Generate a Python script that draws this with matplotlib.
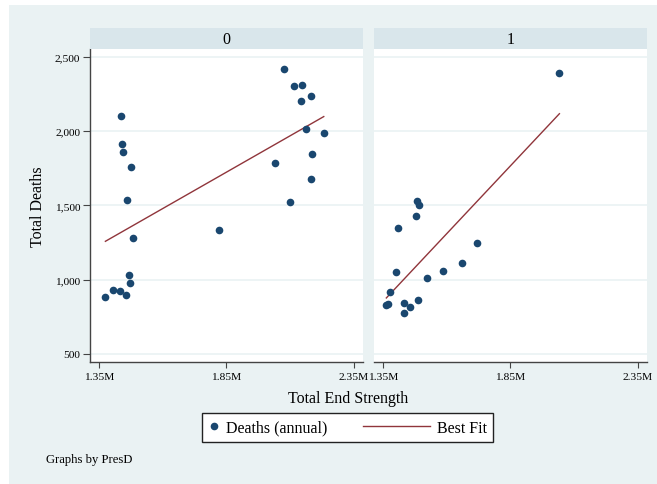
import numpy as np
import matplotlib
matplotlib.use("Agg")
import matplotlib.pyplot as plt
from matplotlib.patches import Rectangle
from matplotlib.lines import Line2D
from matplotlib.legend_handler import HandlerLine2D

# ---------------- data (end strength in millions, deaths) ----------------
panel_labels = ["0", "1"]

strength_0 = [1.437, 1.442, 1.443, 1.477, 1.459, 1.484, 1.822, 2.078, 2.115, 2.149,
              2.183, 2.143, 2.164, 2.233, 2.187, 2.040, 2.182, 2.099,
              1.468, 1.473, 1.375, 1.404, 1.434, 1.454]
deaths_0 = [2099, 1912, 1863, 1757, 1538, 1282, 1333, 2419, 2306, 2313,
            2239, 2201, 2014, 1989, 1845, 1788, 1678, 1525,
            1029, 975, 885, 928, 921, 894]

strength_1 = [2.043, 1.483, 1.491, 1.479, 1.409, 1.719, 1.661, 1.587, 1.401, 1.524,
              1.379, 1.363, 1.368, 1.434, 1.456, 1.434, 1.487]
deaths_1 = [2390, 1529, 1500, 1426, 1345, 1245, 1110, 1056, 1052, 1009,
            917, 826, 836, 843, 818, 773, 865]

x_ticks = [1.35, 1.85, 2.35]
x_tick_labels = ["1.35M", "1.85M", "2.35M"]
y_ticks = [500, 1000, 1500, 2000, 2500]
y_tick_labels = ["500", "1,000", "1,500", "2,000", "2,500"]

# ---------------- style ----------------
W, H = 657, 485
BG = "#EAF2F3"
STRIP = "#D9E6EB"
GRID = "#EAF2F3"
DOT = "#1A476F"
FIT = "#90353B"
AX = "#444444"
FONT = "Liberation Serif"
plt.rcParams["font.family"] = [FONT, "DejaVu Serif"]

fig = plt.figure(figsize=(W / 100, H / 100), dpi=100, facecolor="white")
fig.patches.append(Rectangle((9 / W, 0), 1 - 9 / W, 1 - 6 / H, transform=fig.transFigure,
                             facecolor=BG, edgecolor="none", zorder=-10))

def px(x0, y0, x1, y1):
    return [x0 / W, 1 - y1 / H, (x1 - x0) / W, (y1 - y0) / H]

panel_x = [(90, 362.7), (374, 646.7)]
top, bottom = 50, 362.7
xlim = (1.3145, 2.386)
ylim = (446, 2554)

datasets = [(strength_0, deaths_0), (strength_1, deaths_1)]
axes = []
for i, ((x0, x1), (xs, ys)) in enumerate(zip(panel_x, datasets)):
    ax = fig.add_axes(px(x0, top, x1, bottom))
    ax.set_facecolor("white")
    ax.set_xlim(*xlim)
    ax.set_ylim(*ylim)
    ax.set_yticks(y_ticks)
    ax.set_xticks(x_ticks)
    ax.set_xticklabels(x_tick_labels, fontsize=8.2)
    for yt in y_ticks:
        ax.axhline(yt, color=GRID, lw=1.2, zorder=0)
    for s in ["top", "right"]:
        ax.spines[s].set_visible(False)
    ax.spines["bottom"].set_color(AX)
    ax.spines["bottom"].set_linewidth(1.0)
    if i == 0:
        ax.set_yticklabels(y_tick_labels, fontsize=8.2)
        ax.spines["left"].set_color(AX)
        ax.spines["left"].set_linewidth(1.0)
        ax.tick_params(axis="y", length=5, width=0.8, color=AX, pad=2)
    else:
        ax.spines["left"].set_visible(False)
        ax.tick_params(axis="y", left=False, labelleft=False)
    ax.tick_params(axis="x", length=4.5, width=0.8, color=AX, pad=3)

    xs_a = np.array(xs)
    ys_a = np.array(ys)
    ax.plot(xs_a, ys_a, "o", color=DOT, markersize=5.5, markeredgewidth=0, zorder=3,
            label="Deaths (annual)")
    b, a = np.polyfit(xs_a, ys_a, 1)
    fx = np.array([xs_a.min(), xs_a.max()])
    ax.plot(fx, a + b * fx, color=FIT, lw=1.0, zorder=2, label="Best Fit")

    sax = fig.add_axes(px(x0, 29, x1, 50))
    sax.set_facecolor(STRIP)
    sax.set_xticks([]); sax.set_yticks([])
    for s in sax.spines.values():
        s.set_visible(False)
    sax.text(0.5, 0.5, panel_labels[i], ha="center", va="center", fontsize=11.5,
             transform=sax.transAxes)
    axes.append(ax)

fig.text(37.5 / W, 1 - 207 / H, "Total Deaths", rotation=90, ha="center", va="center",
         fontsize=11.5)
fig.text(348 / W, 1 - 399 / H, "Total End Strength", ha="center", va="center",
         fontsize=11.5)
fig.text(46 / W, 1 - 460 / H, "Graphs by PresD", ha="left", va="center", fontsize=9.1)


class LongLine(HandlerLine2D):
    def __init__(self, extra, **kw):
        super().__init__(**kw)
        self.extra = extra

    def get_xdata(self, legend, xdescent, ydescent, width, height, fontsize):
        return ([-xdescent - self.extra * fontsize, -xdescent + width],
                [-xdescent + 0.5 * width])


h_dot, h_fit = axes[0].get_legend_handles_labels()[0]
leg = fig.legend([h_dot, h_fit], ["Deaths (annual)", "Best Fit"], ncol=2,
                 loc="center", bbox_to_anchor=(347.5 / W, 1 - 428.7 / H),
                 bbox_transform=fig.transFigure, fontsize=11.5,
                 handlelength=0.7, handletextpad=0.4, columnspacing=5.75,
                 borderpad=0.4, fancybox=False, framealpha=1,
                 handler_map={h_fit: LongLine(3.5)})
leg.get_frame().set_edgecolor("#222222")
leg.get_frame().set_linewidth(1.0)

fig.savefig("out.png", dpi=100, facecolor="white")
